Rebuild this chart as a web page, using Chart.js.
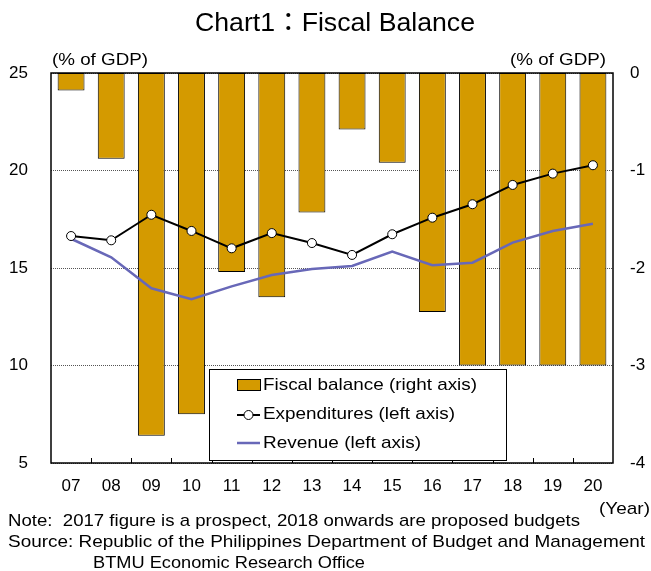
<!DOCTYPE html>
<html>
<head>
<meta charset="utf-8">
<script src="https://cdn.jsdelivr.net/npm/chart.js@4"></script>
<style>
html,body{margin:0;padding:0;background:#fff;}
#wrap{position:relative;width:651px;height:571px;}
</style>
</head>
<body>
<div id="wrap"><canvas id="c" width="651" height="571"></canvas></div>
<script>
// ---- data ----
const years = ['07','08','09','10','11','12','13','14','15','16','17','18','19','20'];
const fiscalBalance = [-0.18, -0.88, -3.72, -3.50, -2.04, -2.30, -1.43, -0.58, -0.92, -2.45, -3.0, -3.0, -3.0, -3.0];
const expenditures = [16.64, 16.42, 17.73, 16.90, 16.01, 16.79, 16.28, 15.67, 16.73, 17.58, 18.27, 19.26, 19.84, 20.27];
const revenue = [16.5, 15.55, 13.96, 13.40, 14.06, 14.64, 14.95, 15.10, 15.84, 15.14, 15.27, 16.30, 16.90, 17.27];
const leftTicks = [5, 10, 15, 20, 25];
const rightTicks = [-4, -3, -2, -1, 0];

const titleText = 'Chart1：Fiscal Balance';
const unitText = '(% of GDP)';
const yearText = '(Year)';
const noteLines = [
  'Note:  2017 figure is a prospect, 2018 onwards are proposed budgets',
  'Source: Republic of the Philippines Department of Budget and Management',
  'BTMU Economic Research Office'
];

const FONT = '"Liberation Sans", Arial, "Noto Sans CJK JP", sans-serif';
const BAR_COLOR = '#D49A00';
const REV_COLOR = '#6868B8';

function fitText(ctx, text, x, y, size, width, align) {
  ctx.save();
  ctx.font = size + 'px ' + FONT;
  ctx.textBaseline = 'middle';
  ctx.fillStyle = '#000';
  const w = ctx.measureText(text).width;
  const tw = width || w;
  const s = tw / w;
  let left = x;
  if (align === 'center') left = x - tw / 2;
  else if (align === 'right') left = x - tw;
  ctx.translate(left, y);
  ctx.scale(s, 1);
  ctx.textAlign = 'left';
  ctx.fillText(text, 0, 0);
  ctx.restore();
}

const decorPlugin = {
  id: 'decor',
  afterDatasetsDraw(chart) {
    const ctx = chart.ctx;
    const a = chart.chartArea;
    const xs = chart.scales.x;
    // inward tick marks at category boundaries
    ctx.save();
    ctx.strokeStyle = '#000';
    ctx.lineWidth = 1;
    ctx.beginPath();
    for (let i = 0; i < years.length - 1; i++) {
      const bx = Math.round((xs.getPixelForValue(i) + xs.getPixelForValue(i + 1)) / 2) + 0.5;
      ctx.moveTo(bx, a.bottom);
      ctx.lineTo(bx, a.bottom - 5);
    }
    ctx.stroke();
    // plot border
    ctx.lineWidth = 1.5;
    ctx.strokeRect(a.left, a.top, a.right - a.left, a.bottom - a.top);
    ctx.restore();

    // legend
    const ds = chart.data.datasets;
    const lx = 209, ly = 369, lw = 297, lh = 91;
    ctx.save();
    ctx.fillStyle = '#fff';
    ctx.fillRect(lx, ly, lw, lh);
    ctx.strokeStyle = '#000';
    ctx.lineWidth = 1;
    ctx.strokeRect(lx + 0.5, ly + 0.5, lw, lh);
    // bar swatch
    ctx.fillStyle = BAR_COLOR;
    ctx.fillRect(237, 379, 23, 11);
    ctx.strokeRect(237.5, 379.5, 23, 11);
    // expenditure sample
    ctx.strokeStyle = '#000';
    ctx.lineWidth = 2;
    ctx.beginPath(); ctx.moveTo(237, 415); ctx.lineTo(260, 415); ctx.stroke();
    ctx.fillStyle = '#fff';
    ctx.lineWidth = 1;
    ctx.beginPath(); ctx.arc(248.5, 415, 4.5, 0, Math.PI * 2); ctx.fill(); ctx.stroke();
    // revenue sample
    ctx.strokeStyle = REV_COLOR;
    ctx.lineWidth = 2.5;
    ctx.beginPath(); ctx.moveTo(237, 443); ctx.lineTo(260, 443); ctx.stroke();
    ctx.restore();
    fitText(ctx, ds[0].label, 263, 385, 17, 214, 'left');
    fitText(ctx, ds[1].label, 263, 414, 17, 192, 'left');
    fitText(ctx, ds[2].label, 263, 443, 17, 158, 'left');

    // title and side texts
    fitText(ctx, titleText, 335, 24, 26, 280, 'center');
    fitText(ctx, unitText, 52, 60, 17, 96, 'left');
    fitText(ctx, unitText, 606, 60, 17, 96, 'right');
    fitText(ctx, yearText, 650, 509, 17, 51, 'right');
    fitText(ctx, noteLines[0], 8, 521, 17, 572, 'left');
    fitText(ctx, noteLines[1], 8, 542, 17, 637, 'left');
    fitText(ctx, noteLines[2], 93, 563, 17, 272, 'left');
  }
};

new Chart(document.getElementById('c'), {
  type: 'bar',
  data: {
    labels: years,
    datasets: [
      {
        type: 'bar',
        label: 'Fiscal balance (right axis)',
        data: fiscalBalance,
        yAxisID: 'y1',
        backgroundColor: BAR_COLOR,
        borderColor: '#000',
        borderWidth: 1,
        borderSkipped: false,
        barPercentage: 0.67,
        categoryPercentage: 1.0,
        order: 3
      },
      {
        type: 'line',
        label: 'Expenditures (left axis)',
        data: expenditures,
        yAxisID: 'y',
        borderColor: '#000',
        borderWidth: 2,
        pointRadius: 4.5,
        pointBackgroundColor: '#fff',
        pointBorderColor: '#000',
        pointBorderWidth: 1,
        tension: 0,
        order: 1
      },
      {
        type: 'line',
        label: 'Revenue (left axis)',
        data: revenue,
        yAxisID: 'y',
        borderColor: REV_COLOR,
        borderWidth: 2.5,
        pointRadius: 0,
        tension: 0,
        order: 2
      }
    ]
  },
  options: {
    responsive: false,
    animation: false,
    events: [],
    layout: { padding: { top: 73, left: 0, right: 0, bottom: 0 } },
    plugins: {
      legend: { display: false },
      title: { display: false },
      tooltip: { enabled: false }
    },
    scales: {
      x: {
        offset: true,
        grid: { display: false, drawTicks: false },
        border: { display: false },
        ticks: { color: '#000', font: { family: FONT, size: 17 }, padding: 13, maxRotation: 0, autoSkip: false },
        afterFit(s) { s.height = 108; }
      },
      y: {
        position: 'left',
        min: 5, max: 25,
        afterBuildTicks(s) { s.ticks = leftTicks.map(v => ({ value: v })); },
        grid: { color: '#555', lineWidth: 1, drawTicks: false },
        border: { display: false, dash: [1, 1] },
        ticks: { color: '#000', font: { family: FONT, size: 17 }, padding: 23 },
        afterFit(s) { s.width = 51; }
      },
      y1: {
        position: 'right',
        min: -4, max: 0,
        afterBuildTicks(s) { s.ticks = rightTicks.map(v => ({ value: v })); },
        grid: { display: false, drawTicks: false },
        border: { display: false },
        ticks: { color: '#000', font: { family: FONT, size: 17 }, padding: 17 },
        afterFit(s) { s.width = 38; }
      }
    }
  },
  plugins: [decorPlugin]
});
</script>
</body>
</html>
